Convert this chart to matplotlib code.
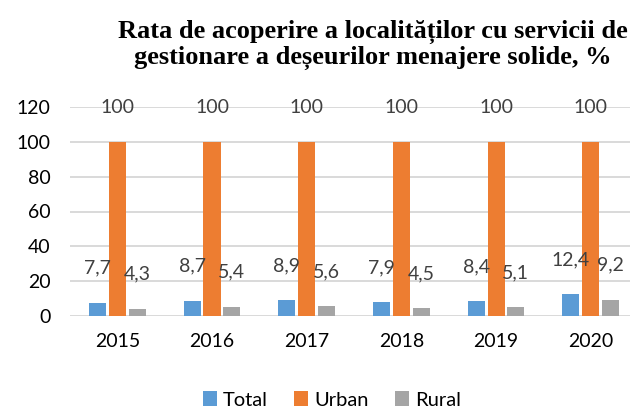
import numpy as np
import matplotlib.pyplot as plt

years = ["2015", "2016", "2017", "2018", "2019", "2020"]
total = [7.7, 8.7, 8.9, 7.9, 8.4, 12.4]
urban = [100, 100, 100, 100, 100, 100]
rural = [4.3, 5.4, 5.6, 4.5, 5.1, 9.2]

series = [("Total", total, "#5B9BD5"), ("Urban", urban, "#ED7D31"), ("Rural", rural, "#A5A5A5")]

plt.rcParams['font.family'] = ['Lato', 'DejaVu Sans']

fig = plt.figure(figsize=(6.3, 4.07), dpi=100)
ax = fig.add_axes([70 / 630, 1 - 316 / 407, 560 / 630, 209 / 407])

x = np.arange(len(years))
step = 0.21
width = 0.18
for i, (name, vals, color) in enumerate(series):
    pos = x + (i - 1) * step
    ax.bar(pos, vals, width, color=color, label=name, zorder=3)
    for p, v in zip(pos, vals):
        txt = f"{v:g}".replace(".", ",")
        ax.annotate(txt, (p, v), xytext=(0, 25), textcoords="offset points",
                    ha="center", va="center", fontsize=14, color="#404040", zorder=4)

ax.set_ylim(0, 120)
ax.set_xlim(-0.5, 5.415)
ax.set_yticks(range(0, 121, 20))
ax.set_xticks(x)
ax.set_xticklabels(years)
ax.tick_params(axis="both", length=0, labelsize=14, colors="black")
ax.tick_params(axis="x", pad=12)
ax.tick_params(axis="y", pad=14)
ax.grid(axis="y", color="#D9D9D9", linewidth=1.4, zorder=0)
for s in ax.spines.values():
    s.set_visible(False)

fig.text(0.592, 0.95, "Rata de acoperire a localităților cu servicii de\ngestionare a deșeurilor menajere solide, %",
         ha="center", va="top", fontsize=19, fontweight="bold",
         family=["Liberation Serif", "DejaVu Serif"], linespacing=1.1)

fig.legend(loc="center", bbox_to_anchor=(0.527, 1 - 400 / 407), ncol=3, frameon=False,
           fontsize=14.5, handlelength=0.7, handleheight=0.7, handletextpad=0.3, columnspacing=1.3)

fig.savefig("out.png", dpi=100)
